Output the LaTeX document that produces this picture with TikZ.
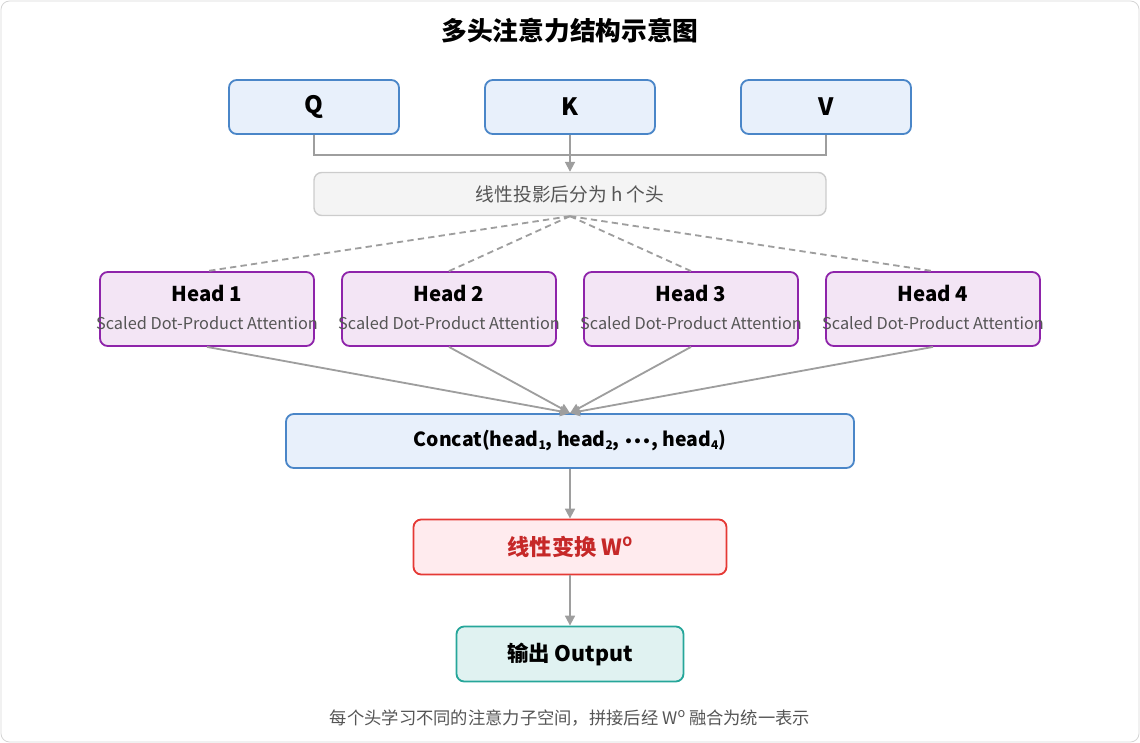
\documentclass[tikz,border=0pt]{standalone}
\usepackage{fontspec}
\setmainfont{Noto Sans CJK SC}
\newfontfamily\bulfont{DejaVu Sans}
\usetikzlibrary{arrows.meta}
\definecolor{inblue}{HTML}{E8F0FB}
\definecolor{inblueline}{HTML}{4A86C8}
\definecolor{projgray}{HTML}{F4F4F4}
\definecolor{projline}{HTML}{CCCCCC}
\definecolor{txtgray}{HTML}{555555}
\definecolor{headfill}{HTML}{F3E5F5}
\definecolor{headline}{HTML}{8E24AA}
\definecolor{linfill}{HTML}{FFEBEE}
\definecolor{linline}{HTML}{E53935}
\definecolor{lintext}{HTML}{C62828}
\definecolor{outfill}{HTML}{E0F2F1}
\definecolor{outline}{HTML}{26A69A}
\definecolor{wire}{HTML}{9E9E9E}
\newcommand{\fs}[1]{\fontsize{#1}{#1}\selectfont}
\newcommand{\hsub}[1]{\raisebox{-0.2ex}{\fs{8.5}#1}}
\newcommand{\hsup}[1]{\raisebox{0.75ex}{\fs{9}#1}}
\tikzset{
  box/.style={rectangle,rounded corners=5.5pt,line width=1.3pt,inner sep=0pt},
  inbox/.style={box,fill=inblue,draw=inblueline,minimum width=170*0.025cm,minimum height=54*0.025cm,font=\fs{17}\bfseries},
  headbox/.style={box,fill=headfill,draw=headline,minimum width=214*0.025cm,minimum height=74*0.025cm},
  headtitle/.style={font=\fs{14.5}\bfseries},
  headsub/.style={font=\fs{11.6},text=txtgray},
  wireline/.style={draw=wire,line width=1.3pt},
  arrow/.style={wireline,-{Triangle[length=7pt,width=7pt]}},
  splitline/.style={draw=wire,line width=1.3pt,dash pattern=on 4.5pt off 3pt}
}
\begin{document}
\begin{tikzpicture}[x=0.025cm,y=-0.025cm]
\useasboundingbox (0,0) rectangle (1140,743);
\draw[draw=projline!80,line width=0.6pt,rounded corners=6pt] (1,1) rectangle (1139,742);

\node (title) at (570,31) {\fs{18.3}\bfseries 多头注意力结构示意图};

\node[inbox] (q) at (314,107) {Q};
\node[inbox] (k) at (570,107) {K};
\node[inbox] (v) at (826,107) {V};
\coordinate (merge) at (570,155);
\node[box,fill=projgray,draw=projline,line width=1pt,minimum width=512*0.025cm,minimum height=43*0.025cm,text=txtgray,font=\fs{13.3}] (proj) at (570,194) {线性投影后分为 h 个头};

\draw[wireline] (q.south) |- (merge);
\draw[wireline] (v.south) |- (merge);
\draw[arrow] (k.south) -- (proj.north);

\node[headbox] (h1) at (207,309) {};
\node[headbox] (h2) at (449,309) {};
\node[headbox] (h3) at (691,309) {};
\node[headbox] (h4) at (933,309) {};
\node[headtitle] (t1) at (207,293) {Head 1};
\node[headtitle] (t2) at (449,293) {Head 2};
\node[headtitle] (t3) at (691,293) {Head 3};
\node[headtitle] (t4) at (933,293) {Head 4};
\node[headsub] (s1) at (207,323) {Scaled Dot-Product Attention};
\node[headsub] (s2) at (449,323) {Scaled Dot-Product Attention};
\node[headsub] (s3) at (691,323) {Scaled Dot-Product Attention};
\node[headsub] (s4) at (933,323) {Scaled Dot-Product Attention};

\draw[splitline] (proj.south) -- (h1.north);
\draw[splitline] (proj.south) -- (h2.north);
\draw[splitline] (proj.south) -- (h3.north);
\draw[splitline] (proj.south) -- (h4.north);

\node[box,fill=inblue,draw=inblueline,minimum width=568*0.025cm,minimum height=54*0.025cm,font=\fs{13.8}\bfseries] (concat) at (570,441) {Concat(head\hsub{1}, head\hsub{2}, {\bulfont\fs{10}•••}, head\hsub{4})};

\draw[arrow] (h1.south) -- (concat.north);
\draw[arrow] (h2.south) -- (concat.north);
\draw[arrow] (h3.south) -- (concat.north);
\draw[arrow] (h4.south) -- (concat.north);

\node[box,fill=linfill,draw=linline,minimum width=313*0.025cm,minimum height=55*0.025cm,text=lintext,font=\fs{15.8}\bfseries] (lin) at (570,547) {线性变换 W\hsup{O}};
\node[box,fill=outfill,draw=outline,minimum width=227*0.025cm,minimum height=55*0.025cm,font=\fs{15.2}\bfseries] (out) at (570,654) {输出 Output};

\draw[arrow] (concat.south) -- (lin.north);
\draw[arrow] (lin.south) -- (out.north);

\node[text=txtgray,font=\fs{12.3}] (note) at (570,718) {每个头学习不同的注意力子空间，拼接后经 W\hsup{o} 融合为统一表示};
\end{tikzpicture}
\end{document}
